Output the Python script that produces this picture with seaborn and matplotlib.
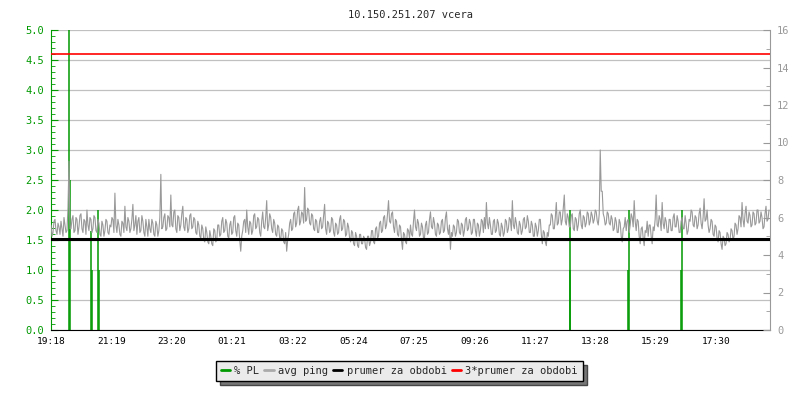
import numpy as np
import pandas as pd
import matplotlib
matplotlib.use("Agg")
import matplotlib.pyplot as plt
from matplotlib.lines import Line2D
from matplotlib.ticker import MultipleLocator, FixedLocator, FormatStrFormatter
import seaborn as sns

# ---------------- data ----------------
title = "10.150.251.207 vcera"
tick_labels = ["19:18", "21:19", "23:20", "01:21", "03:22", "05:24",
               "07:25", "09:26", "11:27", "13:28", "15:29", "17:30"]
ping_step_min = 2
avg_ping_ms = [
    5.6, 5.0, 5.2, 5.8, 5.9, 5.3, 5.1, 5.7, 5.5, 5.1, 5.8, 5.4, 5.0, 6.0, 5.6, 5.2, 5.3, 6.5, 9.0, 5.4,
    5.4, 5.9, 6.1, 5.2, 5.3, 6.0, 5.9, 5.1, 5.5, 6.1, 6.2, 5.4, 5.2, 5.9, 5.8, 5.1, 6.4, 5.6, 5.3, 6.0,
    5.9, 5.2, 5.4, 6.1, 6.0, 5.3, 5.2, 5.9, 5.7, 5.1, 5.0, 5.8, 5.6, 5.0, 5.3, 5.9, 5.8, 5.2, 5.1, 5.6,
    5.5, 6.0, 5.9, 5.2, 7.3, 5.6, 5.2, 5.9, 5.6, 5.1, 5.0, 5.8, 5.7, 5.2, 6.6, 5.5, 5.3, 6.0, 5.8, 5.2,
    5.4, 5.9, 6.7, 5.3, 5.6, 6.1, 5.1, 5.8, 6.0, 5.2, 5.3, 6.1, 5.8, 5.2, 5.0, 5.9, 5.5, 5.0, 5.9, 5.4,
    5.2, 5.9, 5.7, 5.1, 5.0, 5.8, 5.6, 5.0, 5.3, 6.0, 8.3, 5.4, 5.5, 6.0, 6.2, 5.3, 5.4, 6.1, 6.0, 5.5,
    7.2, 5.6, 5.5, 6.3, 6.4, 5.4, 5.2, 6.1, 6.0, 5.3, 5.6, 6.2, 6.6, 5.5, 5.3, 6.0, 5.9, 5.2, 5.4, 6.1,
    6.2, 5.4, 5.5, 6.0, 5.9, 5.2, 5.1, 5.8, 5.6, 5.0, 4.9, 5.6, 5.4, 4.8, 4.7, 5.5, 5.2, 4.7, 4.6, 5.3,
    5.0, 4.6, 4.5, 5.4, 5.3, 4.7, 4.8, 5.6, 5.6, 5.0, 5.1, 5.8, 6.0, 5.2, 5.3, 5.9, 5.7, 5.0, 4.9, 5.6,
    5.8, 5.1, 5.2, 6.0, 6.1, 5.3, 5.0, 5.7, 5.6, 4.8, 4.2, 5.0, 5.3, 5.8, 5.9, 5.2, 6.4, 5.5, 5.1, 5.8,
    5.7, 5.1, 5.3, 6.1, 6.2, 5.4, 5.5, 6.0, 5.9, 5.2, 5.0, 5.8, 6.3, 5.5, 5.4, 6.0, 6.9, 5.3, 5.6, 6.2,
    6.0, 5.4, 5.2, 5.9, 5.7, 5.1, 5.0, 5.6, 5.5, 4.9, 4.8, 5.4, 5.3, 4.7, 4.6, 5.2, 4.2, 4.8, 5.1, 5.7,
    5.9, 5.3, 5.4, 6.2, 6.3, 5.5, 5.7, 6.4, 6.6, 5.6, 5.8, 6.3, 6.2, 5.7, 7.6, 5.8, 5.9, 6.5, 6.4, 5.7,
    5.6, 6.2, 6.1, 5.4, 5.3, 5.9, 5.8, 5.2, 5.2, 5.8, 6.0, 5.4, 5.5, 6.1, 6.7, 5.4, 5.1, 5.8, 5.7, 5.2,
    5.3, 6.0, 5.9, 5.2, 5.0, 5.7, 5.6, 5.1, 5.2, 5.9, 6.1, 5.3, 5.4, 5.9, 5.8, 5.0, 5.1, 5.7, 5.5, 4.9,
    4.7, 5.3, 5.2, 4.6, 4.5, 5.2, 5.0, 4.5, 4.4, 5.1, 5.1, 4.6, 4.6, 5.0, 4.9, 4.4, 4.3, 5.0, 5.0, 4.5,
    4.7, 5.3, 5.3, 4.7, 4.6, 5.4, 5.5, 4.9, 5.0, 5.7, 5.8, 5.2, 5.3, 6.0, 6.1, 5.4, 5.6, 6.2, 6.9, 5.8,
    5.7, 6.2, 6.3, 5.5, 5.2, 5.9, 5.8, 5.1, 5.0, 5.6, 5.5, 4.8, 4.3, 5.2, 5.1, 4.7, 4.6, 5.4, 5.3, 4.9,
    5.6, 5.1, 5.0, 5.8, 6.4, 5.5, 5.3, 5.9, 5.7, 5.0, 5.1, 5.7, 5.5, 4.9, 4.9, 5.6, 5.8, 5.1, 5.2, 5.9,
    6.3, 5.5, 5.4, 6.0, 5.7, 5.1, 5.0, 5.7, 5.6, 5.1, 5.2, 5.8, 5.9, 5.2, 5.3, 6.0, 6.3, 5.4, 5.1, 5.6,
    4.3, 5.2, 5.0, 5.6, 5.5, 5.0, 5.2, 5.9, 5.8, 5.2, 5.1, 5.7, 5.6, 5.0, 5.3, 5.9, 6.0, 5.3, 5.4, 5.9,
    5.7, 5.1, 5.2, 5.9, 5.9, 5.3, 5.0, 5.7, 5.6, 5.0, 5.3, 5.9, 5.8, 5.2, 6.0, 5.4, 6.8, 5.7, 5.4, 6.0,
    5.6, 5.1, 5.1, 5.8, 5.9, 5.2, 5.3, 5.9, 5.7, 5.1, 5.0, 5.7, 5.5, 5.0, 5.2, 5.9, 5.8, 5.2, 5.4, 6.0,
    5.9, 5.3, 6.9, 5.6, 5.4, 6.0, 5.7, 5.2, 5.1, 5.8, 5.6, 5.1, 5.3, 5.9, 6.0, 5.4, 5.5, 6.1, 5.8, 5.2,
    5.2, 5.8, 5.6, 5.0, 5.0, 5.7, 5.5, 5.0, 5.3, 5.9, 5.9, 5.1, 4.6, 5.3, 5.2, 4.7, 4.5, 5.2, 5.0, 5.6,
    5.6, 6.2, 6.1, 5.4, 5.4, 6.0, 6.8, 5.6, 5.7, 6.3, 6.3, 5.6, 5.9, 6.5, 7.2, 5.8, 5.6, 6.2, 6.0, 5.5,
    5.5, 6.1, 6.2, 5.4, 5.3, 6.0, 5.9, 5.3, 5.6, 6.2, 6.4, 5.6, 5.4, 6.1, 6.0, 5.5, 5.7, 6.3, 6.2, 5.6,
    5.8, 6.3, 6.1, 5.7, 5.9, 6.4, 6.3, 5.8, 5.6, 6.2, 9.6, 7.4, 7.4, 6.2, 6.0, 5.6, 5.7, 6.3, 6.2, 5.7,
    5.6, 6.1, 5.9, 5.3, 5.4, 6.0, 5.8, 5.2, 5.2, 5.9, 5.7, 5.0, 4.7, 5.4, 5.5, 6.0, 5.3, 5.8, 5.9, 5.2,
    5.6, 6.2, 6.0, 5.5, 6.9, 5.8, 5.3, 5.9, 5.8, 5.0, 4.6, 5.4, 5.5, 4.9, 4.5, 5.3, 5.2, 5.8, 5.0, 5.6,
    5.6, 5.0, 4.6, 5.5, 5.3, 5.9, 7.2, 5.6, 5.5, 6.1, 5.9, 5.3, 6.8, 5.7, 5.4, 6.0, 5.8, 5.2, 5.2, 5.9,
    5.9, 5.3, 5.3, 6.0, 6.2, 5.5, 5.5, 6.1, 5.8, 5.2, 5.2, 5.8, 6.0, 5.4, 5.4, 6.1, 5.7, 5.1, 5.3, 5.9,
    5.8, 6.4, 6.3, 5.6, 5.5, 6.1, 6.0, 5.4, 5.6, 6.2, 6.5, 5.7, 5.4, 6.0, 7.0, 5.8, 5.9, 6.4, 5.6, 5.2,
    5.4, 5.9, 5.8, 5.1, 5.0, 5.6, 5.5, 4.9, 4.7, 5.3, 5.2, 4.6, 4.3, 5.0, 4.9, 4.5, 4.6, 5.2, 5.1, 4.7,
    4.8, 5.4, 5.3, 4.8, 5.0, 5.7, 5.6, 5.1, 5.4, 6.1, 6.0, 5.5, 6.8, 5.9, 5.5, 6.2, 6.6, 5.8, 5.7, 6.3,
    6.1, 5.5, 5.6, 6.3, 6.2, 5.6, 5.7, 6.4, 6.4, 5.7, 5.8, 6.3, 6.0, 5.4, 5.5, 6.2, 6.6, 5.8, 5.9, 6.4,
]
pl_minutes = [37, 38.5, 80.5, 82, 94.5, 96, 1039, 1040.2, 1156.6, 1158.2, 1262, 1263.5]
pl_percent = [5.5, 2.5, 1.65, 1.0, 2.0, 1.0, 1.0, 2.0, 1.0, 2.0, 1.0, 2.0]
prumer_ms = 4.87
trojnasobek_ms = 14.72
legend_labels = ["% PL", "avg ping", "prumer za obdobi", "3*prumer za obdobi"]

GREEN = "#009900"
GRAY = "#999999"

# ---------------- style ----------------
sns.set_style("white")
plt.rcParams["font.family"] = ["DejaVu Sans Mono", "DejaVu Sans"]

fig = plt.figure(figsize=(8, 4), dpi=100)
ax = fig.add_axes([51 / 800, 70 / 400, 719 / 800, 300 / 400])
ax.set_xlim(0, 1440)
ax.set_ylim(0, 5)
ax2 = ax.twinx()
ax2.set_ylim(0, 16)
ax2.set_xlim(0, 1440)

# packet loss (left axis)
ax.vlines(pl_minutes, 0, pl_percent, color=GREEN, lw=1.1, zorder=2)

# avg ping (right axis)
df = pd.DataFrame({"t": np.arange(len(avg_ping_ms)) * ping_step_min,
                   "ms": avg_ping_ms})
sns.lineplot(data=df, x="t", y="ms", ax=ax2, color=GRAY, lw=0.8, zorder=2)
ax2.axhline(prumer_ms, color="black", lw=2.2, zorder=3)
ax2.axhline(trojnasobek_ms, color="red", lw=1.2, zorder=3)
ax2.set_xlabel("")
ax2.set_ylabel("")
ax.set_xlabel("")
ax.set_ylabel("")

# grid
ax.yaxis.grid(True, color="#c0c0c0", lw=0.9)
ax.xaxis.grid(False)
ax.set_axisbelow(True)

# spines
for s in ["top", "right"]:
    ax.spines[s].set_visible(False)
ax.spines["left"].set_color(GREEN)
ax.spines["bottom"].set_color("black")
for s in ["top", "left", "bottom"]:
    ax2.spines[s].set_visible(False)
ax2.spines["right"].set_color(GRAY)

# ticks
def to_min(lbl):
    h, m = map(int, lbl.split(":"))
    base = 19 * 60 + 18
    return ((h * 60 + m) - base) % 1440

ax.xaxis.set_major_locator(FixedLocator([to_min(l) for l in tick_labels]))
ax.set_xticklabels(tick_labels)
ax.tick_params(axis="x", direction="in", length=5, color="black",
               labelcolor="black", labelsize=6.8, pad=5)

ax.yaxis.set_major_locator(MultipleLocator(0.5))
ax.yaxis.set_minor_locator(MultipleLocator(0.1))
ax.yaxis.set_major_formatter(FormatStrFormatter("%.1f"))
ax.tick_params(axis="y", which="major", direction="in", length=5,
               color=GREEN, labelcolor=GREEN, labelsize=7.5, pad=5)
ax.tick_params(axis="y", which="minor", direction="in", length=3, color=GREEN)

ax2.yaxis.set_major_locator(MultipleLocator(2))
ax2.yaxis.set_minor_locator(MultipleLocator(1))
ax2.tick_params(axis="y", which="major", direction="in", length=5,
                color=GRAY, labelcolor=GRAY, labelsize=7.5, pad=5)
ax2.tick_params(axis="y", which="minor", direction="in", length=3, color=GRAY)

ax.set_title(title, fontsize=7.5, pad=9)

# legend
handles = [Line2D([], [], color=GREEN, lw=2),
           Line2D([], [], color="#aaaaaa", lw=2),
           Line2D([], [], color="black", lw=2),
           Line2D([], [], color="red", lw=2)]
leg = fig.legend(handles, legend_labels, loc="center",
                 bbox_to_anchor=(0.499, 0.0725), ncol=4, frameon=True,
                 fancybox=False, edgecolor="black", facecolor="#ebebeb",
                 framealpha=1, fontsize=7.5, handlelength=0.9,
                 handletextpad=0.4, columnspacing=0.5, borderpad=0.45,
                 shadow={"ox": 3, "oy": -3, "facecolor": "#777777", "alpha": 1})
leg.get_frame().set_linewidth(1.0)

fig.savefig("out.png", dpi=100)
